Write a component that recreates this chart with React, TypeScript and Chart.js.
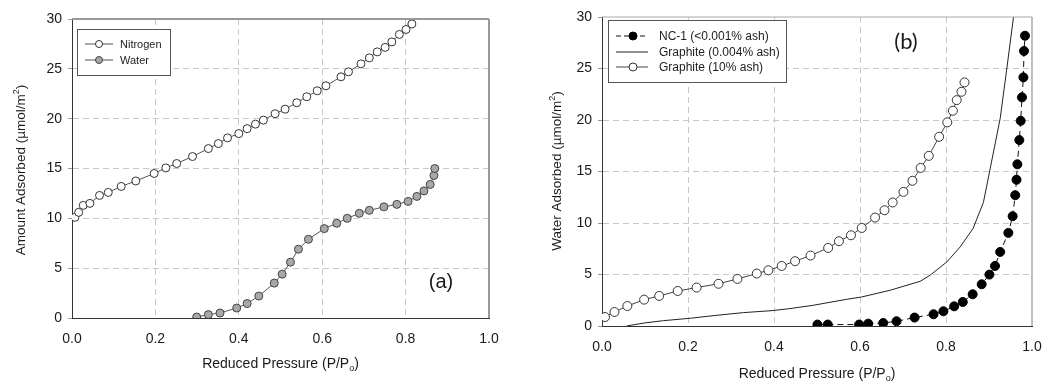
import React, { useEffect, useRef } from 'react';
import { Chart, registerables } from 'chart.js';
Chart.register(...registerables);

const FONT = "'Liberation Sans', Arial, sans-serif";

// ---------- Panel (a) data ----------
const xTicksA = [0, 0.2, 0.4, 0.6, 0.8, 1.0];
const nitrogenX = [0.007, 0.016, 0.027, 0.043, 0.066, 0.087, 0.118, 0.153, 0.197, 0.225, 0.251, 0.289, 0.327, 0.351, 0.373, 0.400, 0.420, 0.440, 0.459, 0.487, 0.511, 0.539, 0.563, 0.588, 0.609, 0.645, 0.663, 0.693, 0.713, 0.732, 0.751, 0.767, 0.785, 0.801, 0.815];
const nitrogenY = [10.1, 10.6, 11.3, 11.5, 12.3, 12.6, 13.2, 13.75, 14.5, 15.06, 15.5, 16.2, 17.0, 17.5, 18.07, 18.5, 19.0, 19.45, 19.85, 20.5, 20.95, 21.6, 22.2, 22.8, 23.3, 24.2, 24.7, 25.5, 26.1, 26.7, 27.15, 27.7, 28.45, 28.95, 29.5];
const waterX = [0.299, 0.327, 0.355, 0.395, 0.420, 0.448, 0.485, 0.504, 0.524, 0.543, 0.567, 0.605, 0.635, 0.660, 0.689, 0.713, 0.748, 0.779, 0.806, 0.827, 0.844, 0.859, 0.868, 0.870];
const waterY = [0.1, 0.34, 0.5, 1.0, 1.45, 2.2, 3.5, 4.4, 5.6, 6.9, 7.9, 8.97, 9.5, 10.0, 10.5, 10.8, 11.15, 11.4, 11.7, 12.2, 12.75, 13.4, 14.3, 15.0];

// ---------- Panel (b) data ----------
const nc1X = [0.501, 0.525, 0.598, 0.619, 0.654, 0.685, 0.727, 0.771, 0.794, 0.819, 0.839, 0.862, 0.883, 0.901, 0.914, 0.926, 0.945, 0.955, 0.961, 0.964, 0.966, 0.9705, 0.9737, 0.9767, 0.980, 0.9814, 0.9837];
const nc1Y = [0.14, 0.14, 0.14, 0.23, 0.29, 0.46, 0.82, 1.14, 1.43, 1.91, 2.33, 3.08, 4.05, 4.99, 5.83, 7.19, 9.04, 10.66, 12.7, 14.2, 15.7, 18.05, 19.92, 22.2, 24.14, 26.7, 28.18];
const g004X = [0.057, 0.1, 0.143, 0.205, 0.267, 0.329, 0.398, 0.437, 0.491, 0.569, 0.604, 0.670, 0.740, 0.763, 0.802, 0.833, 0.863, 0.887, 0.902, 0.926, 0.941, 0.957, 0.962];
const g004Y = [0, 0.3, 0.52, 0.75, 1.04, 1.3, 1.5, 1.69, 2.01, 2.59, 2.82, 3.47, 4.34, 4.93, 6.22, 7.68, 9.47, 12.0, 15.13, 20.15, 24.85, 30.0, 32.0];
const g10X = [0.007, 0.029, 0.059, 0.098, 0.133, 0.176, 0.220, 0.271, 0.315, 0.360, 0.387, 0.418, 0.449, 0.485, 0.526, 0.551, 0.579, 0.604, 0.635, 0.657, 0.676, 0.701, 0.722, 0.741, 0.760, 0.784, 0.803, 0.816, 0.825, 0.836, 0.843];
const g10Y = [0.87, 1.36, 1.94, 2.56, 2.92, 3.4, 3.73, 4.1, 4.57, 5.09, 5.41, 5.83, 6.29, 6.84, 7.58, 8.23, 8.81, 9.52, 10.53, 11.24, 11.99, 13.02, 14.1, 15.35, 16.52, 18.37, 19.77, 20.9, 21.93, 22.74, 23.65];

const yMin = 0;
const yMax = 30;
const yStep = 5;

type Spec = {
  label: string; xs: number[]; ys: number[];
  line: string; lineWidth: number; dash: number[];
  pointBg: string; pointBorder: string; radius: number;
};

const seriesA: Spec[] = [
  { label: 'Nitrogen', xs: nitrogenX, ys: nitrogenY, line: '#555', lineWidth: 1, dash: [], pointBg: '#ffffff', pointBorder: '#333', radius: 4 },
  { label: 'Water', xs: waterX, ys: waterY, line: '#555', lineWidth: 1, dash: [], pointBg: '#a8a8a8', pointBorder: '#444', radius: 4 },
];
const seriesB: Spec[] = [
  { label: 'NC-1 (<0.001% ash)', xs: nc1X, ys: nc1Y, line: '#111', lineWidth: 1, dash: [6, 4], pointBg: '#000000', pointBorder: '#000', radius: 4.5 },
  { label: 'Graphite (0.004% ash)', xs: g004X, ys: g004Y, line: '#222', lineWidth: 1, dash: [], pointBg: '#000', pointBorder: '#000', radius: 0 },
  { label: 'Graphite (10% ash)', xs: g10X, ys: g10Y, line: '#444', lineWidth: 1, dash: [], pointBg: '#ffffff', pointBorder: '#333', radius: 4.5 },
];

type PanelCfg = {
  width: number; height: number;
  padTop: number; padRight: number; xAxisH: number; yAxisW: number;
  yTitle: string; yTitleX: number; yTitleY: number;
  xTitleY: number;
  frameColor: string; frameTopW: number; frameRightW: number;
  legend: { x: number; y: number; w: number; h: number; rows: number[]; lx1: number; lx2: number; mx: number; tx: number; font: number; mr: number };
  tag: string; tagX: number; tagY: number; tagFont: string;
  series: Spec[];
};

function drawMarkerLine(ctx: CanvasRenderingContext2D, s: Spec, cfg: PanelCfg['legend'], y: number) {
  ctx.save();
  ctx.strokeStyle = s.line;
  ctx.lineWidth = 1;
  ctx.setLineDash(s.dash.length ? [5, 3] : []);
  ctx.beginPath();
  ctx.moveTo(cfg.lx1, y);
  ctx.lineTo(cfg.lx2, y);
  ctx.stroke();
  ctx.setLineDash([]);
  if (s.radius > 0) {
    ctx.beginPath();
    ctx.arc(cfg.mx, y, cfg.mr, 0, Math.PI * 2);
    ctx.fillStyle = s.pointBg;
    ctx.fill();
    ctx.strokeStyle = s.pointBorder;
    ctx.stroke();
  }
  ctx.restore();
}

function makeDecor(cfg: PanelCfg) {
  return {
    id: 'decor',
    afterDraw(chart: any) {
      const ctx: CanvasRenderingContext2D = chart.ctx;
      const a = chart.chartArea;
      ctx.save();
      // frame top/right
      ctx.strokeStyle = cfg.frameColor;
      ctx.lineWidth = cfg.frameTopW;
      ctx.beginPath();
      ctx.moveTo(a.left, a.top);
      ctx.lineTo(a.right, a.top);
      ctx.stroke();
      ctx.lineWidth = cfg.frameRightW;
      ctx.beginPath();
      ctx.moveTo(a.right, a.top);
      ctx.lineTo(a.right, a.bottom);
      ctx.stroke();

      // legend
      const L = cfg.legend;
      ctx.fillStyle = '#ffffff';
      ctx.fillRect(L.x, L.y, L.w, L.h);
      ctx.strokeStyle = '#555';
      ctx.lineWidth = 1;
      ctx.strokeRect(L.x + 0.5, L.y + 0.5, L.w, L.h);
      cfg.series.forEach((s, i) => {
        const y = L.rows[i];
        drawMarkerLine(ctx, s, L, y);
        ctx.fillStyle = '#222';
        ctx.font = `${L.font}px ${FONT}`;
        ctx.textAlign = 'left';
        ctx.textBaseline = 'middle';
        ctx.fillText(s.label, L.tx, y + 0.5);
      });

      // panel tag
      ctx.fillStyle = '#1a1a1a';
      ctx.font = cfg.tagFont;
      ctx.textAlign = 'center';
      ctx.textBaseline = 'middle';
      ctx.fillText(cfg.tag, cfg.tagX, cfg.tagY);

      // x title with subscript
      const cx = (a.left + a.right) / 2;
      const main = 'Reduced Pressure (P/P';
      ctx.textBaseline = 'alphabetic';
      ctx.textAlign = 'left';
      ctx.font = `14px ${FONT}`;
      const w1 = ctx.measureText(main).width;
      const w3 = ctx.measureText(')').width;
      ctx.font = `9px ${FONT}`;
      const w2 = ctx.measureText('o').width;
      let x = cx - (w1 + w2 + w3) / 2;
      const base = cfg.xTitleY + 5;
      ctx.fillStyle = '#1a1a1a';
      ctx.font = `14px ${FONT}`;
      ctx.fillText(main, x, base);
      x += w1;
      ctx.font = `9px ${FONT}`;
      ctx.fillText('o', x, base + 3);
      x += w2;
      ctx.font = `14px ${FONT}`;
      ctx.fillText(')', x, base);

      // y title rotated with superscript
      ctx.translate(cfg.yTitleX, cfg.yTitleY);
      ctx.rotate(-Math.PI / 2);
      const yMain = cfg.yTitle + ' (\u00b5mol/m';
      ctx.font = `13.5px ${FONT}`;
      const v1 = ctx.measureText(yMain).width;
      const v3 = ctx.measureText(')').width;
      ctx.font = `9px ${FONT}`;
      const v2 = ctx.measureText('2').width;
      let yx = -(v1 + v2 + v3) / 2;
      const yb = 5;
      ctx.font = `13.5px ${FONT}`;
      ctx.fillText(yMain, yx, yb);
      yx += v1;
      ctx.font = `9px ${FONT}`;
      ctx.fillText('2', yx, yb - 6);
      yx += v2;
      ctx.font = `13.5px ${FONT}`;
      ctx.fillText(')', yx, yb);
      ctx.restore();
    },
  };
}

function gridColor(max: number) {
  return (c: any) => {
    const v = c.tick ? c.tick.value : null;
    if (v === null) return '#c8c8c8';
    if (Math.abs(v) < 1e-9 || Math.abs(v - max) < 1e-9) return 'rgba(0,0,0,0)';
    return '#c8c8c8';
  };
}

function Panel({ cfg }: { cfg: PanelCfg }) {
  const ref = useRef<HTMLCanvasElement>(null);
  useEffect(() => {
    if (!ref.current) return;
    const datasets = cfg.series.map((s) => ({
      label: s.label,
      data: s.xs.map((x, i) => ({ x, y: s.ys[i] })),
      showLine: true,
      borderColor: s.line,
      borderWidth: s.lineWidth,
      borderDash: s.dash,
      backgroundColor: s.pointBg,
      pointBackgroundColor: s.pointBg,
      pointBorderColor: s.pointBorder,
      pointBorderWidth: 1,
      pointRadius: s.radius,
      pointHoverRadius: s.radius,
      tension: 0,
    }));
    const chart = new Chart(ref.current, {
      type: 'scatter',
      data: { datasets: datasets.slice().reverse() as any },
      options: {
        animation: false,
        responsive: false,
        events: [],
        layout: { padding: { top: cfg.padTop, right: cfg.padRight, left: 0, bottom: 0 } },
        plugins: { legend: { display: false }, tooltip: { enabled: false } },
        scales: {
          x: {
            type: 'linear',
            min: xTicksA[0],
            max: xTicksA[xTicksA.length - 1],
            afterBuildTicks: (sc: any) => { sc.ticks = xTicksA.map((v) => ({ value: v })); },
            afterFit: (sc: any) => {
              sc.height = cfg.xAxisH;
              sc.paddingLeft = 0;
              sc.paddingRight = 0;
            },
            ticks: {
              callback: (v: any) => Number(v).toFixed(1),
              font: { family: FONT, size: 14 },
              color: '#1a1a1a',
              padding: 13,
              maxRotation: 0,
              autoSkip: false,
            },
            grid: { color: gridColor(1), lineWidth: 1, drawTicks: false },
            border: { display: true, color: '#333', width: 1, dash: [6, 4] },
          },
          y: {
            type: 'linear',
            min: yMin,
            max: yMax,
            afterFit: (sc: any) => {
              sc.width = cfg.yAxisW;
              sc.paddingTop = 0;
              sc.paddingBottom = 0;
            },
            ticks: {
              stepSize: yStep,
              font: { family: FONT, size: 14 },
              color: '#1a1a1a',
              padding: 6,
            },
            grid: { color: gridColor(yMax), lineWidth: 1, drawTicks: true, tickLength: 4, tickColor: '#999' },
            border: { display: true, color: '#333', width: 1, dash: [6, 4] },
          },
        },
      },
      plugins: [makeDecor(cfg)],
    });
    return () => chart.destroy();
  }, [cfg]);
  return <canvas ref={ref} width={cfg.width} height={cfg.height} style={{ display: 'block', width: cfg.width, height: cfg.height }} />;
}

const cfgA: PanelCfg = {
  width: 520, height: 381,
  padTop: 19, padRight: 31, xAxisH: 63, yAxisW: 72,
  yTitle: 'Amount Adsorbed', yTitleX: 20, yTitleY: 170,
  xTitleY: 363,
  frameColor: '#9a9a9a', frameTopW: 2, frameRightW: 2,
  legend: { x: 77, y: 29, w: 93, h: 46, rows: [44, 60], lx1: 85, lx2: 113, mx: 99, tx: 120, font: 11, mr: 3.5 },
  tag: '(a)', tagX: 441, tagY: 282, tagFont: `20px ${FONT}`,
  series: seriesA,
};

const cfgB: PanelCfg = {
  width: 512, height: 381,
  padTop: 17, padRight: 10, xAxisH: 55, yAxisW: 72,
  yTitle: 'Water Adsorbed', yTitleX: 26, yTitleY: 171,
  xTitleY: 373,
  frameColor: '#a8a8a8', frameTopW: 1, frameRightW: 1.5,
  legend: { x: 78, y: 20, w: 178, h: 62, rows: [36, 52, 67], lx1: 86, lx2: 118, mx: 103, tx: 129, font: 12, mr: 4 },
  tag: '(b)', tagX: 376, tagY: 42, tagFont: `22px Lato, ${FONT}`,
  series: seriesB,
};

export default function App() {
  useEffect(() => {
    document.body.style.margin = '0';
  }, []);
  return (
    <div style={{ position: 'relative', width: 1042, height: 381, background: '#fff' }}>
      <div style={{ position: 'absolute', left: 0, top: 0 }}>
        <Panel cfg={cfgA} />
      </div>
      <div style={{ position: 'absolute', left: 530, top: 0 }}>
        <Panel cfg={cfgB} />
      </div>
    </div>
  );
}
